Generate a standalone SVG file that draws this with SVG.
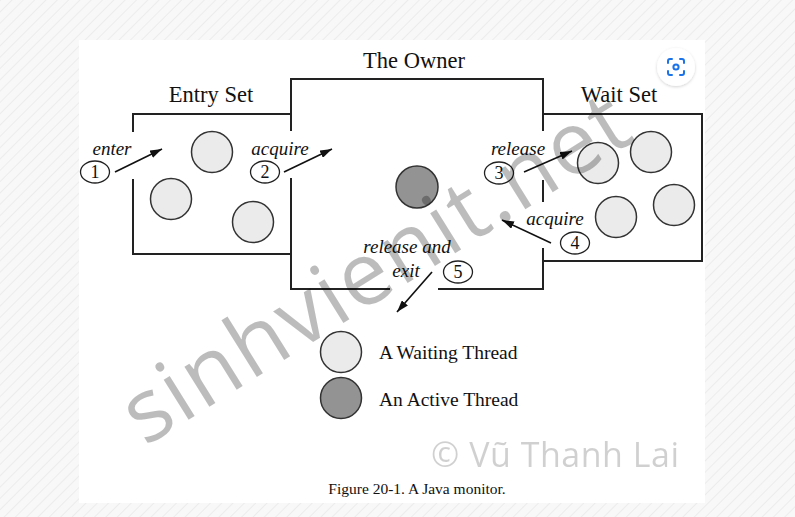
<svg xmlns="http://www.w3.org/2000/svg" width="795" height="517" viewBox="0 0 795 517">
  <defs>
    <pattern id="hatch" width="8" height="8" patternUnits="userSpaceOnUse" patternTransform="rotate(45)">
      <rect width="8" height="8" fill="#f8f8f8"/>
      <line x1="0" y1="0" x2="0" y2="8" stroke="#ececec" stroke-width="2"/>
    </pattern>
    <marker id="arrow" viewBox="0 0 12 8" refX="12" refY="4" markerWidth="12" markerHeight="8" markerUnits="userSpaceOnUse" orient="auto">
      <path d="M0,0 L12,4 L0,8 z" fill="#111"/>
    </marker>
    <filter id="shadow" x="-50%" y="-50%" width="200%" height="200%">
      <feDropShadow dx="0" dy="1" stdDeviation="1.5" flood-color="#000" flood-opacity="0.18"/>
    </filter>
  </defs>
  <style>
    .wall { fill: none; stroke: #222; stroke-width: 2; }
    .wait { fill: #ebebeb; stroke: #333; stroke-width: 1.5; }
    .active { fill: #939393; stroke: #333; stroke-width: 1.5; }
    .num { fill: #fff; stroke: #222; stroke-width: 1.3; }
    .conn { stroke: #111; stroke-width: 1.6; fill: none; marker-end: url(#arrow); }
    .title { font-family: "Liberation Serif", "Times New Roman", serif; font-size: 22.5px; fill: #111; text-anchor: middle; }
    .lab { font-family: "Liberation Serif", "Times New Roman", serif; font-size: 19px; font-style: italic; fill: #111; text-anchor: middle; }
    .digit { font-family: "Liberation Serif", "Times New Roman", serif; font-size: 18px; fill: #111; text-anchor: middle; }
    .legend { font-family: "Liberation Serif", "Times New Roman", serif; font-size: 19.5px; fill: #111; }
    .caption { font-family: "Liberation Serif", "Times New Roman", serif; font-size: 15.5px; fill: #111; text-anchor: middle; }
    .wm { font-family: "Open Sans", "DejaVu Sans", sans-serif; fill: #000; }
  </style>

  <rect x="0" y="0" width="795" height="517" fill="url(#hatch)"/>
  <rect x="79" y="40" width="626" height="463" fill="#fff"/>

  <g id="owner">
    <path class="wall" d="M291,131 V79 H543 V131 M543,180 V202 M543,248 V289 H438 M390,289 H291 V178"/>
    <text class="title" x="414" y="68">The Owner</text>
    <circle class="active" cx="417" cy="187" r="21"/>
  </g>

  <g id="entry-set">
    <path class="wall" d="M133,132 V114 H291 M133,179 V254 H291"/>
    <text class="title" x="211" y="102">Entry Set</text>
    <circle class="wait" cx="212" cy="152" r="20.5"/>
    <circle class="wait" cx="171" cy="199" r="20.5"/>
    <circle class="wait" cx="253" cy="222" r="20.5"/>
  </g>

  <g id="wait-set">
    <path class="wall" d="M543,114 H702 V261 H543"/>
    <text class="title" x="619" y="102">Wait Set</text>
    <circle class="wait" cx="598" cy="163" r="20.5"/>
    <circle class="wait" cx="651" cy="152" r="20.5"/>
    <circle class="wait" cx="616" cy="217" r="20.5"/>
    <circle class="wait" cx="674" cy="205" r="20.5"/>
  </g>

  <g id="step1">
    <ellipse class="num" cx="95" cy="172" rx="14.5" ry="11"/>
    <text class="digit" x="95" y="178">1</text>
    <text class="lab" x="112" y="155">enter</text>
  </g>
  <g id="step2">
    <ellipse class="num" cx="265" cy="172" rx="14.5" ry="11"/>
    <text class="digit" x="265" y="178">2</text>
    <text class="lab" x="280" y="155">acquire</text>
  </g>
  <g id="step3">
    <ellipse class="num" cx="499" cy="173" rx="14.5" ry="11"/>
    <text class="digit" x="499" y="179">3</text>
    <text class="lab" x="518" y="155">release</text>
  </g>
  <g id="step4">
    <ellipse class="num" cx="575" cy="243" rx="14.5" ry="11"/>
    <text class="digit" x="575" y="249">4</text>
    <text class="lab" x="555" y="225">acquire</text>
  </g>
  <g id="step5">
    <ellipse class="num" cx="458" cy="272" rx="14.5" ry="11"/>
    <text class="digit" x="458" y="278">5</text>
    <text class="lab" x="407" y="253">release and</text>
    <text class="lab" x="406" y="277">exit</text>
  </g>

  <g id="connectors">
    <line class="conn" x1="115" y1="172" x2="162" y2="149"/>
    <line class="conn" x1="284" y1="172" x2="332" y2="149"/>
    <line class="conn" x1="524" y1="172" x2="572" y2="151"/>
    <line class="conn" x1="551" y1="243" x2="502" y2="220"/>
    <line class="conn" x1="432" y1="272" x2="397" y2="312"/>
  </g>

  <g id="legend">
    <circle class="wait" cx="341" cy="352" r="20.5"/>
    <text class="legend" x="379" y="359">A Waiting Thread</text>
    <circle class="active" cx="341" cy="398" r="20.5"/>
    <text class="legend" x="379" y="406">An Active Thread</text>
  </g>

  <text id="caption" class="caption" x="417" y="494">Figure 20-1. A Java monitor.</text>

  <g id="lens-button" filter="url(#shadow)">
    <circle cx="676" cy="67" r="19" fill="#fff"/>
  </g>
  <g id="lens-icon" fill="none" stroke="#1a73e8" stroke-width="2" stroke-linecap="round">
    <path d="M668,63 V61 Q668,59 670,59 H672 M680,59 H682 Q684,59 684,61 V63 M684,71 V73 Q684,75 682,75 H680 M672,75 H670 Q668,75 668,73 V71"/>
    <circle cx="676" cy="67" r="2.6"/>
  </g>

  <g id="watermark">
    <text class="wm" x="145" y="447" font-size="88" textLength="580" opacity="0.26" transform="rotate(-32 145 447)">sinhvienit.net</text>
    <text class="wm" x="431" y="467" font-size="34" textLength="248" opacity="0.18">© Vũ Thanh Lai</text>
  </g>
</svg>
